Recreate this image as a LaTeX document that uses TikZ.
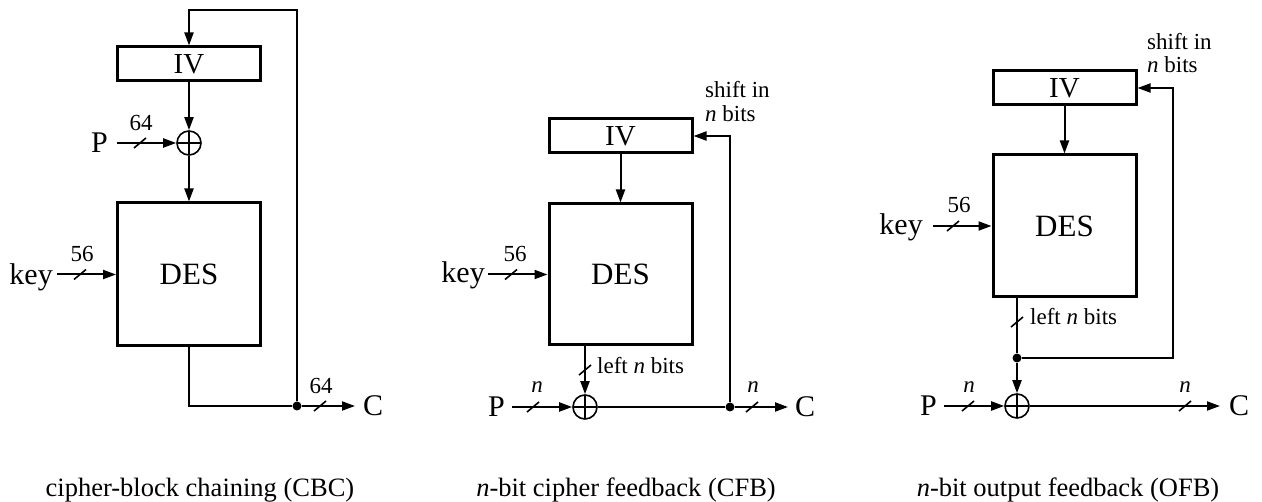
\documentclass[tikz,border=0pt]{standalone}
\usepackage{fontspec}
\setmainfont{Liberation Serif}
\usetikzlibrary{arrows.meta}
\tikzset{
  ln/.style={line width=2pt},
  arr/.style={-{Triangle[length=13pt,width=9pt]}},
  box/.style={draw, line width=3pt, inner sep=0pt, minimum width=143pt},
  ivbox/.style={box, minimum height=34pt, font=\fontsize{29}{34}\selectfont},
  desbox/.style={box, minimum height=142pt, font=\fontsize{31}{36}\selectfont},
  big/.style={font=\fontsize{30}{36}\selectfont, inner ysep=0pt},
  small/.style={font=\fontsize{23}{28}\selectfont, inner sep=0pt, anchor=base},
  smallw/.style={font=\fontsize{23}{28}\selectfont, inner sep=0pt, anchor=base west},
  caption/.style={font=\fontsize{26.5}{32}\selectfont, inner sep=0pt, anchor=base},
  xor/.style={circle, draw, line width=1.6pt, minimum size=24pt, inner sep=0pt,
    path picture={\draw[line width=1.6pt]
      (path picture bounding box.north) -- (path picture bounding box.south)
      (path picture bounding box.west) -- (path picture bounding box.east);}},
  dot/.style={circle, fill, minimum size=9pt, inner sep=0pt},
  pics/busmark/.style={code={\draw[line width=1.6pt] (-6,5) -- (6,-5);}}
}
\begin{document}
\begin{tikzpicture}[x=1pt,y=-1pt]
\useasboundingbox (0,0) rectangle (1262,502);

% ---------------- CBC ----------------
\node[ivbox] (ivA) at (189,64) {IV};
\node[xor] (xorA) at (189,143) {};
\node[desbox, minimum height=143pt] (desA) at (189,274.5) {DES};
\node[big, anchor=east, inner xsep=9pt] (PA) at (117,143) {P};
\node[big, anchor=base east, inner xsep=4pt] (keyA) at (57,285) {key};
\node[dot] (dotA) at (297,406) {};
\node[big, anchor=west, inner xsep=8pt] (CA) at (355,406) {C};
\coordinate (topA) at (297,10);
\node[small] (nA1) at (141,131) {64};
\node[small] (nA2) at (82,262) {56};
\node[small] (nA3) at (321,394) {64};
\node[caption] (capA) at (200,497) {cipher-block chaining (CBC)};

\draw[ln,arr] (ivA) -- (xorA);
\draw[ln,arr] (xorA) -- (desA);
\draw[ln,arr] (PA) -- (xorA);
\draw[ln,arr] (keyA.east |- desA.west) -- (desA.west);
\draw[ln] (desA.south) |- (dotA);
\draw[ln,arr] (dotA) -- (CA);
\draw[ln,arr] (dotA) -- (topA) -| (ivA.north);
\pic at (140,143) {busmark};
\pic at (80,274.5) {busmark};
\pic at (320,406) {busmark};

% ---------------- CFB ----------------
\node[ivbox] (ivB) at (620.5,136) {IV};
\node[desbox, minimum height=141pt] (desB) at (620.5,274.5) {DES};
\node[xor] (xorB) at (585,407) {};
\node[big, anchor=base east, inner xsep=3pt] (keyB) at (488,283) {key};
\node[big, anchor=east, inner xsep=7pt] (PB) at (512,407) {P};
\node[dot] (dotB) at (730,407) {};
\node[big, anchor=west, inner xsep=7pt] (CB) at (788,407) {C};
\node[small] (nB1) at (515,262) {56};
\node[small] (nB2) at (537,393) {\textit{n}};
\node[small] (nB3) at (753,393) {\textit{n}};
\node[smallw] (lB) at (597,374) {left \textit{n} bits};
\node[smallw] (sB1) at (705,98) {shift in};
\node[smallw] (sB2) at (705,122) {\textit{n} bits};
\node[caption] (capB) at (626,497) {\textit{n}-bit cipher feedback (CFB)};

\draw[ln,arr] (ivB) -- (desB);
\draw[ln,arr] (keyB.east |- desB.west) -- (desB.west);
\draw[ln,arr] (desB.south -| xorB) -- (xorB);
\draw[ln,arr] (PB) -- (xorB);
\draw[ln] (xorB) -- (dotB);
\draw[ln,arr] (dotB) -- (CB);
\draw[ln,arr] (dotB) |- (ivB.east);
\pic at (511,274.5) {busmark};
\pic at (585,370) {busmark};
\pic at (533,407) {busmark};
\pic at (752,407) {busmark};

% ---------------- OFB ----------------
\node[ivbox] (ivC) at (1064.5,88) {IV};
\node[desbox] (desC) at (1064.5,226) {DES};
\node[xor] (xorC) at (1017,406) {};
\node[dot] (dotC) at (1017,358) {};
\coordinate (fbC) at (1173,358);
\node[big, anchor=base east, inner xsep=10pt] (keyC) at (933,235) {key};
\node[big, anchor=east, inner xsep=7pt] (PC) at (944,406) {P};
\node[big, anchor=west, inner xsep=9pt] (CC) at (1220,406) {C};
\node[small] (nC1) at (959,213) {56};
\node[small] (nC2) at (969,393) {\textit{n}};
\node[small] (nC3) at (1185,393) {\textit{n}};
\node[smallw] (lC) at (1030,325) {left \textit{n} bits};
\node[smallw] (sC1) at (1147,50) {shift in};
\node[smallw] (sC2) at (1147,73) {\textit{n} bits};
\node[caption] (capC) at (1068,497) {\textit{n}-bit output feedback (OFB)};

\draw[ln,arr] (ivC) -- (desC);
\draw[ln,arr] (keyC.east |- desC.west) -- (desC.west);
\draw[ln] (desC.south -| dotC) -- (dotC);
\draw[ln,arr] (dotC) -- (xorC);
\draw[ln,arr] (dotC) -- (fbC) |- (ivC.east);
\draw[ln,arr] (PC) -- (xorC);
\draw[ln,arr] (xorC) -- (CC);
\pic at (953,226) {busmark};
\pic at (1017,322) {busmark};
\pic at (968,406) {busmark};
\pic at (1185,406) {busmark};
\end{tikzpicture}
\end{document}
